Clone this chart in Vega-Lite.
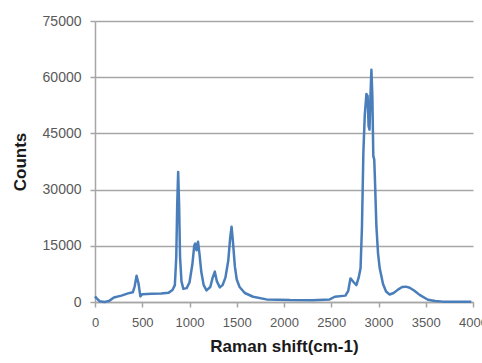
{
  "$schema": "https://vega.github.io/schema/vega-lite/v6.json",
  "width": 378,
  "height": 281,
  "autosize": {"type": "none"},
  "padding": {"left": 95, "top": 21, "right": 9, "bottom": 61},
  "background": "white",
  "config": {
    "view": {"stroke": null},
    "font": "Liberation Sans"
  },
  "data": {
    "values": [
      {"shift": 0, "counts": 1500},
      {"shift": 20, "counts": 900},
      {"shift": 50, "counts": 200},
      {"shift": 100, "counts": 0},
      {"shift": 150, "counts": 300},
      {"shift": 200, "counts": 1200},
      {"shift": 280, "counts": 1700},
      {"shift": 350, "counts": 2300},
      {"shift": 400, "counts": 2600},
      {"shift": 420, "counts": 4200},
      {"shift": 440, "counts": 7000},
      {"shift": 460, "counts": 5000},
      {"shift": 480, "counts": 1500},
      {"shift": 500, "counts": 2100},
      {"shift": 600, "counts": 2200},
      {"shift": 700, "counts": 2300},
      {"shift": 780, "counts": 2500},
      {"shift": 820, "counts": 3200},
      {"shift": 845, "counts": 4500},
      {"shift": 860, "counts": 12000},
      {"shift": 870, "counts": 26000},
      {"shift": 880, "counts": 34700},
      {"shift": 890, "counts": 26000},
      {"shift": 900, "counts": 12000},
      {"shift": 915, "counts": 5500},
      {"shift": 935, "counts": 3500},
      {"shift": 970, "counts": 3700},
      {"shift": 1000, "counts": 5200},
      {"shift": 1030, "counts": 10000},
      {"shift": 1050, "counts": 15000},
      {"shift": 1060, "counts": 15600},
      {"shift": 1075, "counts": 13800},
      {"shift": 1090, "counts": 16100},
      {"shift": 1105, "counts": 13000},
      {"shift": 1125, "counts": 8000},
      {"shift": 1150, "counts": 4500},
      {"shift": 1180, "counts": 3100},
      {"shift": 1220, "counts": 4000},
      {"shift": 1245, "counts": 6500},
      {"shift": 1268, "counts": 8100},
      {"shift": 1290, "counts": 5500},
      {"shift": 1321, "counts": 3900},
      {"shift": 1350, "counts": 4500},
      {"shift": 1380, "counts": 6500},
      {"shift": 1410, "counts": 11000},
      {"shift": 1430, "counts": 17000},
      {"shift": 1445, "counts": 20100},
      {"shift": 1460, "counts": 16000},
      {"shift": 1480, "counts": 9500},
      {"shift": 1500, "counts": 6000},
      {"shift": 1530, "counts": 4000},
      {"shift": 1585, "counts": 2400},
      {"shift": 1673, "counts": 1400},
      {"shift": 1815, "counts": 700},
      {"shift": 2061, "counts": 530},
      {"shift": 2300, "counts": 500},
      {"shift": 2484, "counts": 700},
      {"shift": 2537, "counts": 1400},
      {"shift": 2650, "counts": 1700},
      {"shift": 2680, "counts": 3000},
      {"shift": 2703, "counts": 6300},
      {"shift": 2740, "counts": 5200},
      {"shift": 2766, "counts": 4500},
      {"shift": 2790, "counts": 6500},
      {"shift": 2810, "counts": 9000},
      {"shift": 2825, "counts": 20000},
      {"shift": 2840, "counts": 40000},
      {"shift": 2855, "counts": 50000},
      {"shift": 2872, "counts": 55500},
      {"shift": 2885, "counts": 55000},
      {"shift": 2895, "counts": 47000},
      {"shift": 2905, "counts": 46000},
      {"shift": 2915, "counts": 55000},
      {"shift": 2925, "counts": 62000},
      {"shift": 2935, "counts": 55000},
      {"shift": 2945, "counts": 39000},
      {"shift": 2955, "counts": 38000},
      {"shift": 2962, "counts": 33000},
      {"shift": 2978, "counts": 20100},
      {"shift": 2995, "counts": 13000},
      {"shift": 3013, "counts": 9000},
      {"shift": 3048, "counts": 4800},
      {"shift": 3080, "counts": 2800},
      {"shift": 3118, "counts": 2000},
      {"shift": 3160, "counts": 2400},
      {"shift": 3206, "counts": 3300},
      {"shift": 3250, "counts": 4000},
      {"shift": 3290, "counts": 4100},
      {"shift": 3330, "counts": 3800},
      {"shift": 3380, "counts": 3000},
      {"shift": 3435, "counts": 1900},
      {"shift": 3523, "counts": 600},
      {"shift": 3600, "counts": 250},
      {"shift": 3682, "counts": 100},
      {"shift": 3800, "counts": 100},
      {"shift": 3982, "counts": 50}
    ]
  },
  "mark": {"type": "line", "color": "#4a7ebb", "strokeWidth": 2.5, "interpolate": "linear", "strokeJoin": "round"},
  "encoding": {
    "x": {
      "field": "shift",
      "type": "quantitative",
      "scale": {"domain": [0, 4000], "nice": false, "zero": true},
      "axis": {
        "title": "Raman shift(cm-1)",
        "values": [0, 500, 1000, 1500, 2000, 2500, 3000, 3500, 4000],
        "format": "d",
        "grid": false,
        "domainColor": "#a6a6a6",
        "domainWidth": 1.5,
        "tickColor": "#a6a6a6",
        "tickWidth": 1.5,
        "tickSize": 5,
        "labelPadding": 9,
        "labelFontSize": 13,
        "labelColor": "#595959",
        "labelFlush": false,
        "labelOverlap": false,
        "titleFontSize": 17,
        "titleFontWeight": "bold",
        "titleColor": "#1a1a1a",
        "titlePadding": 9
      }
    },
    "y": {
      "field": "counts",
      "type": "quantitative",
      "scale": {"domain": [0, 75000], "nice": false},
      "axis": {
        "title": "Counts",
        "values": [0, 15000, 30000, 45000, 60000, 75000],
        "format": "d",
        "grid": true,
        "gridColor": "#a6a6a6",
        "gridWidth": 1.4,
        "domainColor": "#a6a6a6",
        "domainWidth": 1.5,
        "tickColor": "#a6a6a6",
        "tickWidth": 1.5,
        "tickSize": 5,
        "labelPadding": 9,
        "labelFontSize": 14,
        "labelColor": "#595959",
        "labelFlush": false,
        "labelOverlap": false,
        "titleFontSize": 17,
        "titleFontWeight": "bold",
        "titleColor": "#1a1a1a",
        "titlePadding": 13
      }
    }
  }
}
